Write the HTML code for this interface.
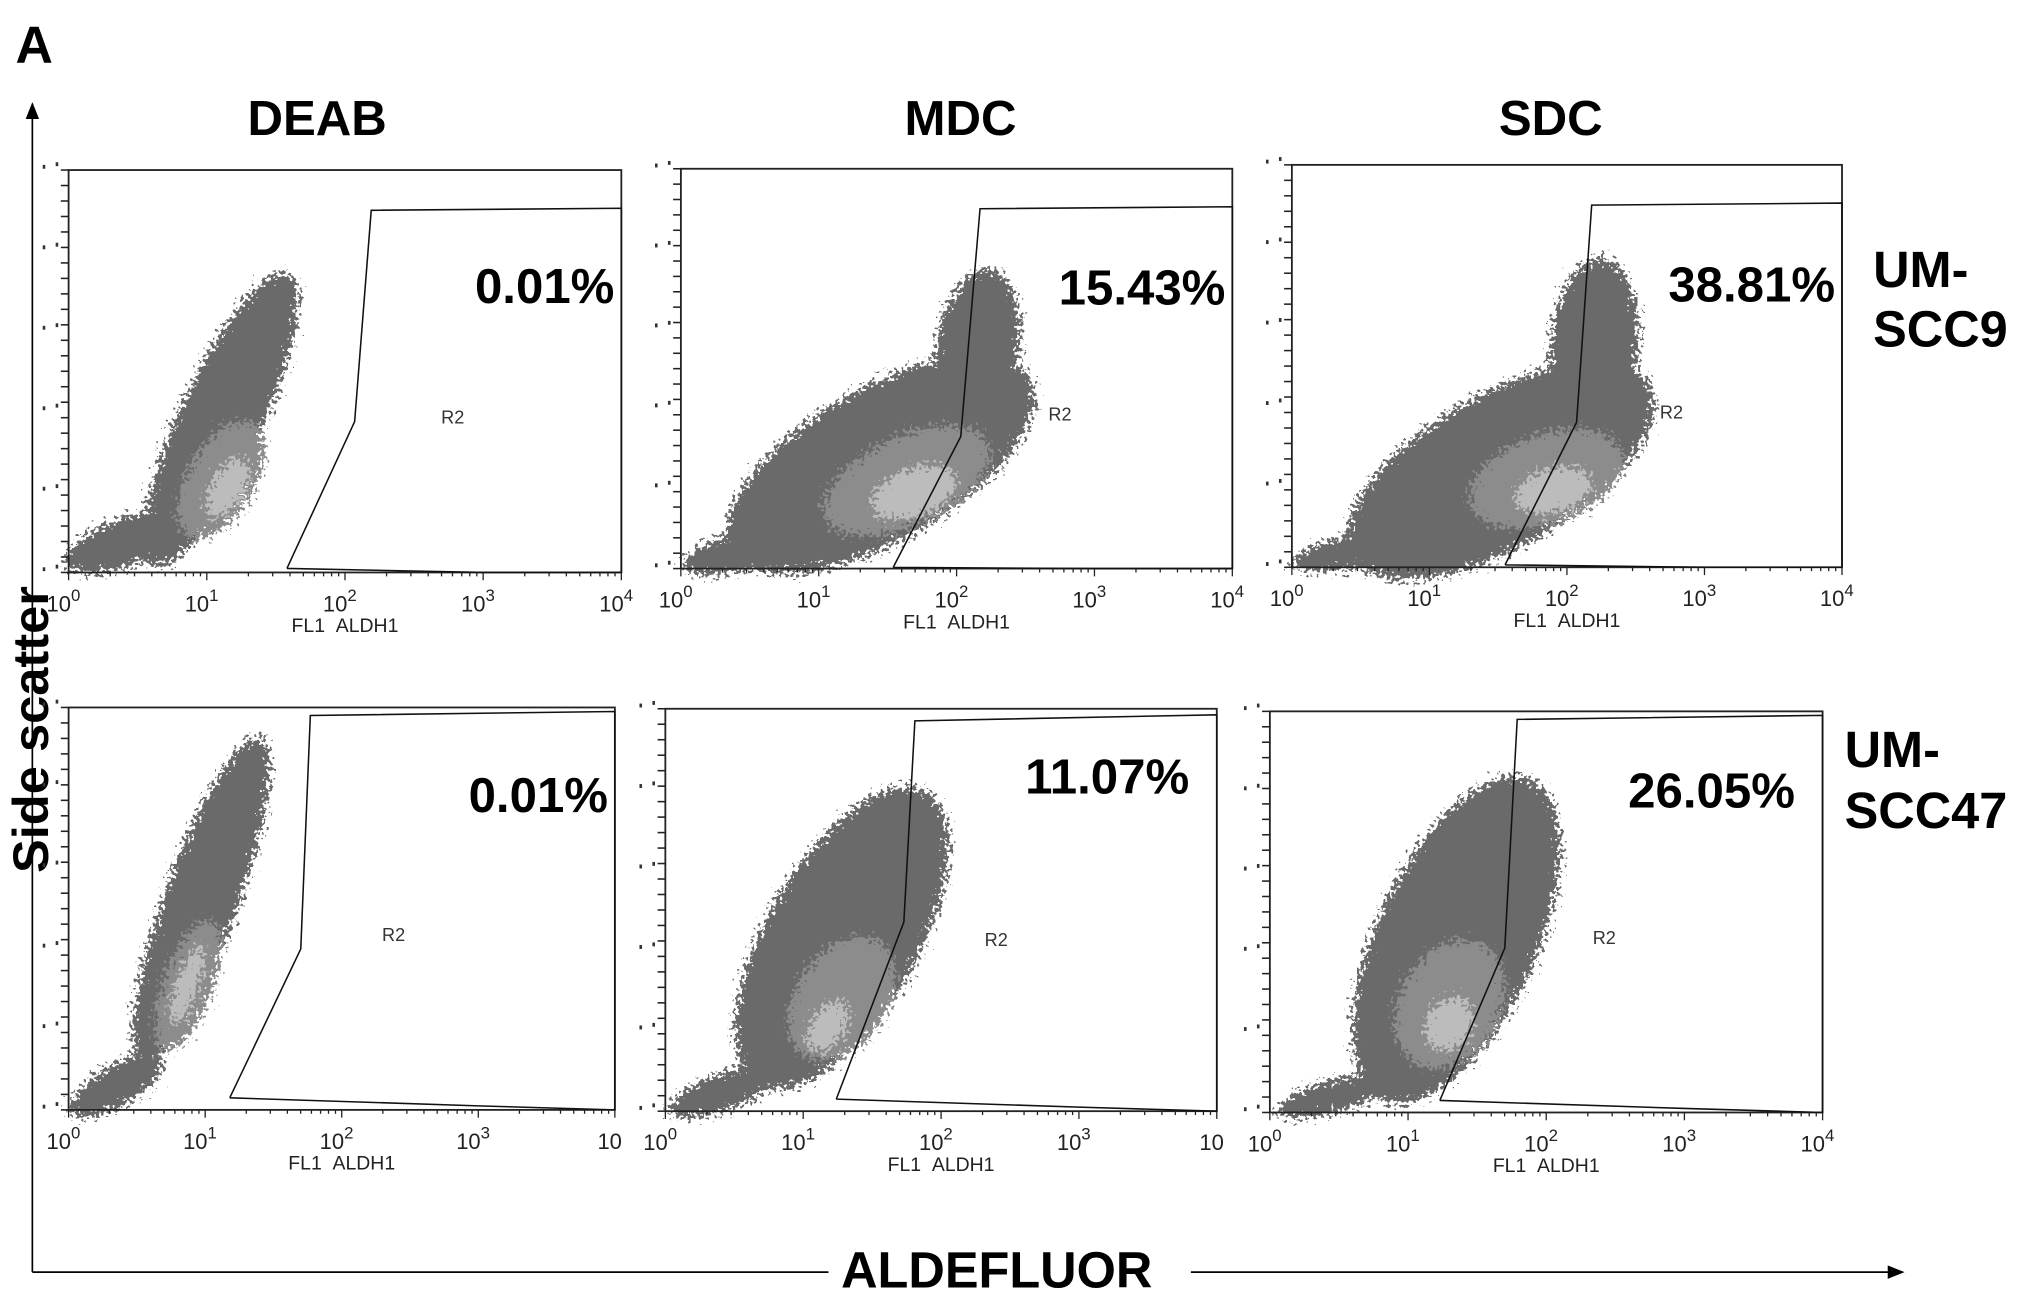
<!DOCTYPE html>
<html><head><meta charset="utf-8"><style>
html,body{margin:0;padding:0;background:#fff}
svg{display:block}
text{font-family:"Liberation Sans",Arial,sans-serif}
.b{font-weight:bold;fill:#000}
</style></head><body>
<svg id="fig" width="2031" height="1302" viewBox="0 0 1569 1003" preserveAspectRatio="none">
<defs>
<filter id="speck" x="-20%" y="-20%" width="140%" height="140%">
<feTurbulence type="fractalNoise" baseFrequency="0.35" numOctaves="2" seed="3" result="n"/>
<feDisplacementMap in="SourceGraphic" in2="n" scale="24" xChannelSelector="R" yChannelSelector="G"/>
</filter>
<marker id="arr" markerWidth="10" markerHeight="8" refX="9" refY="4" orient="auto"><path d="M0,0 L10,4 L0,8 z" fill="#000"/></marker>
</defs>
<text x="12" y="48" class="b" font-size="40">A</text>
<line x1="25" y1="980" x2="25" y2="80" stroke="#000" stroke-width="1.3" marker-end="url(#arr)"/>
<text transform="translate(37,562) rotate(-90)" text-anchor="middle" class="b" font-size="39">Side scatter</text>
<line x1="25" y1="980" x2="640" y2="980" stroke="#000" stroke-width="1.3"/>
<line x1="920" y1="980" x2="1470" y2="980" stroke="#000" stroke-width="1.3" marker-end="url(#arr)"/>
<text x="770" y="992" text-anchor="middle" class="b" font-size="39">ALDEFLUOR</text>
<text x="245" y="104" text-anchor="middle" class="b" font-size="38">DEAB</text>
<text x="742" y="104" text-anchor="middle" class="b" font-size="38">MDC</text>
<text x="1198" y="104" text-anchor="middle" class="b" font-size="38">SDC</text>
<text x="1447" y="221" class="b" font-size="39"><tspan x="1447">UM-</tspan><tspan x="1447" dy="46">SCC9</tspan></text>
<text x="1425" y="591" class="b" font-size="39"><tspan x="1425">UM-</tspan><tspan x="1425" dy="47">SCC47</tspan></text>
<g id="panels"></g>
</svg>
<script>
// panel frames (layout, not data)
const frames=[[53,131,480,441],[526,130,952,438],[998,127,1423,437],[53,545,475,855],[514,546,940,856],[981,548,1408,857]];
const panelNames=['deab-scc9','mdc-scc9','sdc-scc9','deab-scc47','mdc-scc47','sdc-scc47'];
// percentages in gate R2
const percents=['0.01%','15.43%','38.81%','0.01%','11.07%','26.05%'];
const percentRightDecade=[3.95,3.95,3.95,3.95,3.8,3.8];
const percentYFrac=[0.67,0.66,0.66,0.74,0.79,0.76];
// R2 label positions (decade, fraction)
const r2Pos=[[2.78,0.37],[2.75,0.37],[2.76,0.37],[2.38,0.42],[2.40,0.41],[2.42,0.42]];
// gate vertices: [log10 FL1, SSC fraction]
const gates=[
 [[1.58,0.01],[2.07,0.375],[2.19,0.9],[4,0.905],[4,0],[3.0,0],[1.58,0.01]],
 [[1.54,0.003],[2.03,0.33],[2.17,0.9],[4,0.905],[4,0],[3.0,0],[1.54,0.003]],
 [[1.55,0.006],[2.07,0.36],[2.18,0.9],[4,0.905],[4,0],[3.0,0],[1.55,0.006]],
 [[1.18,0.03],[1.70,0.40],[1.77,0.98],[4,0.99],[4,0],[3.0,0.01],[1.18,0.03]],
 [[1.24,0.03],[1.73,0.47],[1.81,0.97],[4,0.985],[4,0],[3.0,0.01],[1.24,0.03]],
 [[1.23,0.03],[1.70,0.41],[1.79,0.98],[4,0.99],[4,0],[3.0,0.01],[1.23,0.03]]
];
// density clouds: [centre decade, centre fraction, radius decades, radius fraction, tilt deg, level]
const clouds=[
 [[1.10,0.38,0.30,0.40,25,0],[0.45,0.08,0.50,0.06,-20,0],[1.10,0.23,0.24,0.16,30,1],[1.15,0.21,0.12,0.08,30,2]],
 [[1.45,0.26,1.25,0.19,-30,0],[2.15,0.55,0.30,0.20,10,0],[0.50,0.05,0.50,0.05,-15,0],[1.64,0.22,0.65,0.11,-25,1],[1.69,0.19,0.32,0.06,-20,2]],
 [[1.52,0.24,1.25,0.19,-30,0],[2.20,0.55,0.32,0.22,5,0],[0.49,0.04,0.50,0.04,-10,0],[1.85,0.22,0.58,0.11,-20,1],[1.90,0.19,0.28,0.055,-15,2]],
 [[0.97,0.52,0.27,0.43,20,0],[0.35,0.06,0.38,0.05,-30,0],[0.87,0.31,0.18,0.17,20,1],[0.87,0.31,0.08,0.10,20,2]],
 [[1.28,0.43,0.55,0.42,30,0],[0.43,0.05,0.42,0.045,-20,0],[1.28,0.28,0.33,0.17,35,1],[1.18,0.21,0.12,0.07,35,2]],
 [[1.35,0.43,0.58,0.44,25,0],[0.46,0.04,0.42,0.04,-15,0],[1.30,0.27,0.36,0.17,30,1],[1.30,0.22,0.16,0.07,30,2]]
];
const decadeLabels=['0','1','2','3','4'];
const lastLabelHasExp=[true,true,true,false,false,true];
const levelColors=['#6a6a6a','#8c8c8c','#bcbcbc'];
const NS='http://www.w3.org/2000/svg';
const root=document.getElementById('panels');
function mk(t,a,p){const e=document.createElementNS(NS,t);for(const k in a)e.setAttribute(k,a[k]);(p||root).appendChild(e);return e;}
frames.forEach((f,i)=>{
 const [x0,y0,x1,y1]=f,w=x1-x0,h=y1-y0;
 const X=d=>x0+d/4*w, Y=fr=>y1-fr*h;
 const g=mk('g',{});
 
 
 const cg=mk('g',{filter:'url(#speck)'},g);
 
 
 clouds[i].forEach(c=>{
  const cx=X(c[0]),cy=Y(c[1]);
  const e=mk('ellipse',{cx:cx,cy:cy,rx:c[2]/4*w,ry:c[3]*h,fill:levelColors[c[5]],transform:`rotate(${c[4]} ${cx} ${cy})`},cg);
  
  
 });
 const fr=mk('rect',{x:x0,y:y0,width:w,height:h,fill:'none',stroke:'#222','stroke-width':1.4},g);
 
 
 const gp=mk('polyline',{points:gates[i].map(p=>X(p[0])+','+Y(p[1])).join(' '),fill:'none',stroke:'#111','stroke-width':1.2},g);
 
 
 for(let d=0;d<4;d++){for(let m=1;m<10;m++){const xx=X(d+Math.log10(m));
  mk('line',{x1:xx,y1:y1,x2:xx,y2:y1+(m==1?6:3),stroke:'#222','stroke-width':1},g);}}
 mk('line',{x1:X(4),y1:y1,x2:X(4),y2:y1+6,stroke:'#222','stroke-width':1},g);
 for(let k=0;k<=26;k++){const yy=y1-k*h/26;mk('line',{x1:x0-6,y1:yy,x2:x0,y2:yy,stroke:'#222','stroke-width':1.2},g);}
 for(let k=0;k<6;k++){const yy=y1-k*h/5-4;mk('rect',{x:x0-20,y:yy,width:2,height:3,fill:'#333'},g);mk('rect',{x:x0-10,y:yy-2,width:2,height:3,fill:'#333'},g);}
 decadeLabels.forEach((lb,k)=>{
  const t=mk('text',{x:X(k)-4,y:y1+30,'text-anchor':'middle','font-size':17,fill:'#222'},g);
  
  
  t.appendChild(document.createTextNode('10'));
  if(k<4||lastLabelHasExp[i]){const s=mk('tspan',{dy:-8,'font-size':13},t);s.textContent=lb;}
 });
 const xl=mk('text',{x:X(2),y:y1+46,'text-anchor':'middle','font-size':15,fill:'#222'},g);
 
 
 xl.textContent='FL1\u00a0\u00a0ALDH1';
 const r2=mk('text',{x:X(r2Pos[i][0]),y:Y(r2Pos[i][1]),'text-anchor':'middle','font-size':14,fill:'#333'},g);
 
 
 r2.textContent='R2';
 const pt=mk('text',{x:X(percentRightDecade[i]),y:Y(percentYFrac[i]),'text-anchor':'end','font-size':38,'font-weight':'bold',fill:'#000'},g);
 
 
 pt.textContent=percents[i];
});
</script>
</body></html>
